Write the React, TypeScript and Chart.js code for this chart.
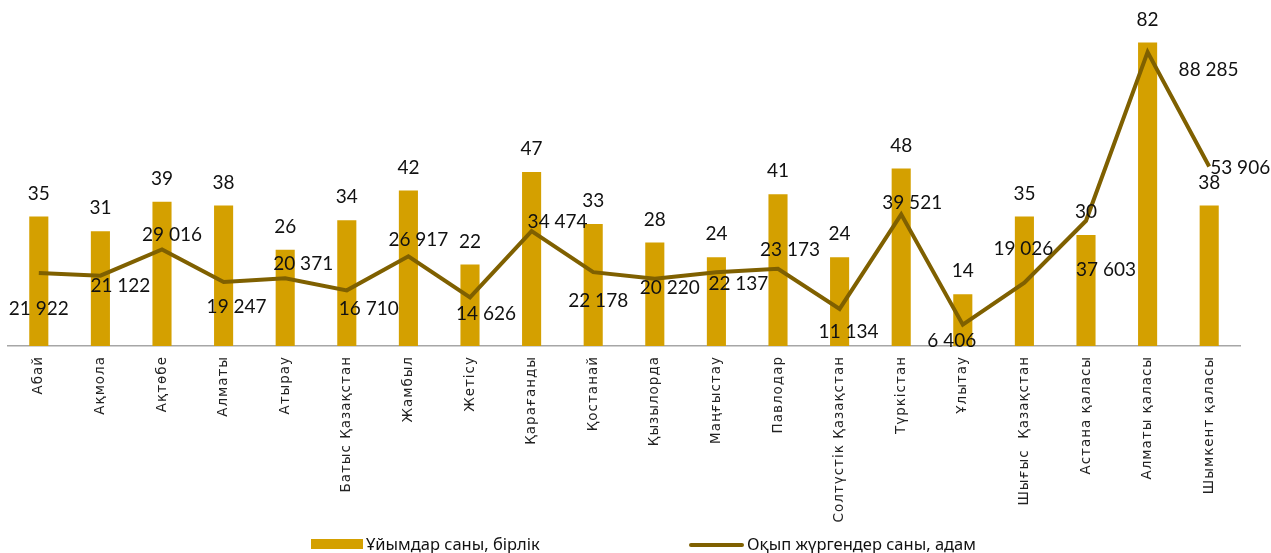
import React, { useEffect, useRef } from "react";
import { Chart, registerables } from "chart.js";

Chart.register(...registerables);

const categories = [
  "Абай", "Ақмола", "Ақтөбе", "Алматы", "Атырау", "Батыс Қазақстан", "Жамбыл", "Жетісу",
  "Қарағанды", "Қостанай", "Қызылорда", "Маңғыстау", "Павлодар", "Солтүстік Қазақстан",
  "Түркістан", "Ұлытау", "Шығыс  Қазақстан", "Астана қаласы", "Алматы қаласы", "Шымкент қаласы",
];
const orgCounts = [35, 31, 39, 38, 26, 34, 42, 22, 47, 33, 28, 24, 41, 24, 48, 14, 35, 30, 82, 38];
const studentCounts = [
  21922, 21122, 29016, 19247, 20371, 16710, 26917, 14626, 34474, 22178,
  20220, 22137, 23173, 11134, 39521, 6406, 19026, 37603, 88285, 53906,
];
const barLabel = "Ұйымдар саны, бірлік";
const lineLabel = "Оқып жүргендер саны, адам";

// label placement (pixel offsets of line value labels from their points)
const lineLabelOffsets: [number, number][] = [
  [0, 36], [20, 10], [10, -15], [13, 25], [18, -14], [22, 19], [10, -16], [16, 17], [26, -9], [5, 29],
  [15, 9], [22, 12], [12, -19], [9, 23], [11, -12], [-11, 16], [-1, -34], [20, 49], [61, 18], [31, 1],
];

const BAR_COLOR = "#D4A000";
const LINE_COLOR = "#7F6000";
const LABEL_FONT = "19px Lato, 'Open Sans', sans-serif";

const fmt = (v: number) => String(v).replace(/\B(?=(\d{3})+(?!\d))/g, " ");

const spacingPlugin = {
  id: "tickSpacing",
  beforeDraw(chart: any) {
    (chart.ctx as any).letterSpacing = "1px";
  },
  beforeDatasetsDraw(chart: any) {
    (chart.ctx as any).letterSpacing = "0px";
  },
};

const labelsPlugin = {
  id: "valueLabels",
  afterDatasetsDraw(chart: any) {
    const ctx = chart.ctx;
    ctx.save();
    (ctx as any).letterSpacing = "0px";
    ctx.font = LABEL_FONT;
    ctx.fillStyle = "#111";
    ctx.textAlign = "center";
    ctx.textBaseline = "middle";
    const barMeta = chart.getDatasetMeta(1);
    barMeta.data.forEach((el: any, i: number) => {
      ctx.fillText(fmt(orgCounts[i]), el.x, el.y - 23);
    });
    const lineMeta = chart.getDatasetMeta(0);
    lineMeta.data.forEach((el: any, i: number) => {
      const [dx, dy] = lineLabelOffsets[i];
      ctx.fillText(fmt(studentCounts[i]), el.x + dx, el.y + dy);
    });
    ctx.restore();
  },
};

const legendPlugin = {
  id: "customLegend",
  afterDraw(chart: any) {
    const ctx = chart.ctx;
    ctx.save();
    (ctx as any).letterSpacing = "0px";
    ctx.font = "16.5px 'Noto Sans', sans-serif";
    ctx.textBaseline = "middle";
    ctx.textAlign = "left";
    const y = 545;
    ctx.fillStyle = BAR_COLOR;
    ctx.fillRect(311, 539, 52, 10);
    ctx.fillStyle = "#111";
    ctx.fillText(barLabel, 366, y);
    ctx.strokeStyle = LINE_COLOR;
    ctx.lineWidth = 4;
    ctx.lineCap = "round";
    ctx.beginPath();
    ctx.moveTo(691, y);
    ctx.lineTo(742, y);
    ctx.stroke();
    ctx.fillText(lineLabel, 747, y);
    ctx.restore();
  },
};

export default function App() {
  const ref = useRef<HTMLCanvasElement | null>(null);
  useEffect(() => {
    if (!ref.current) return;
    const chart = new Chart(ref.current, {
      type: "bar",
      data: {
        labels: categories,
        datasets: [
          {
            type: "line",
            label: lineLabel,
            data: studentCounts,
            borderColor: LINE_COLOR,
            backgroundColor: LINE_COLOR,
            borderWidth: 4,
            pointRadius: 0,
            tension: 0,
            yAxisID: "y1",
            order: 0,
          } as any,
          {
            type: "bar",
            label: barLabel,
            data: orgCounts,
            backgroundColor: BAR_COLOR,
            barPercentage: 0.31,
            categoryPercentage: 1,
            yAxisID: "y",
            order: 1,
          },
        ],
      },
      options: {
        animation: false,
        responsive: true,
        maintainAspectRatio: false,
        layout: { padding: { left: 8, right: 31, top: 13, bottom: 0 } },
        plugins: { legend: { display: false }, tooltip: { enabled: false } },
        scales: {
          x: {
            grid: { display: false },
            border: { display: true, color: "#A6A6A6", width: 1.5 },
            ticks: {
              minRotation: 90,
              maxRotation: 90,
              autoSkip: false,
              padding: 2,
              color: "#222",
              font: { family: "'DejaVu Sans', sans-serif", size: 13.5 },
            },
            afterFit: (scale: any) => {
              scale.height = 207;
            },
          },
          y: { display: false, min: 0, max: 90 },
          y1: { display: false, min: 0, max: 100000, position: "right" },
        },
      },
      plugins: [spacingPlugin, labelsPlugin, legendPlugin],
    });
    return () => chart.destroy();
  }, []);
  return (
    <div style={{ position: "absolute", left: 0, top: 0, width: 1271, height: 553, background: "#fff" }}>
      <canvas ref={ref} />
    </div>
  );
}
